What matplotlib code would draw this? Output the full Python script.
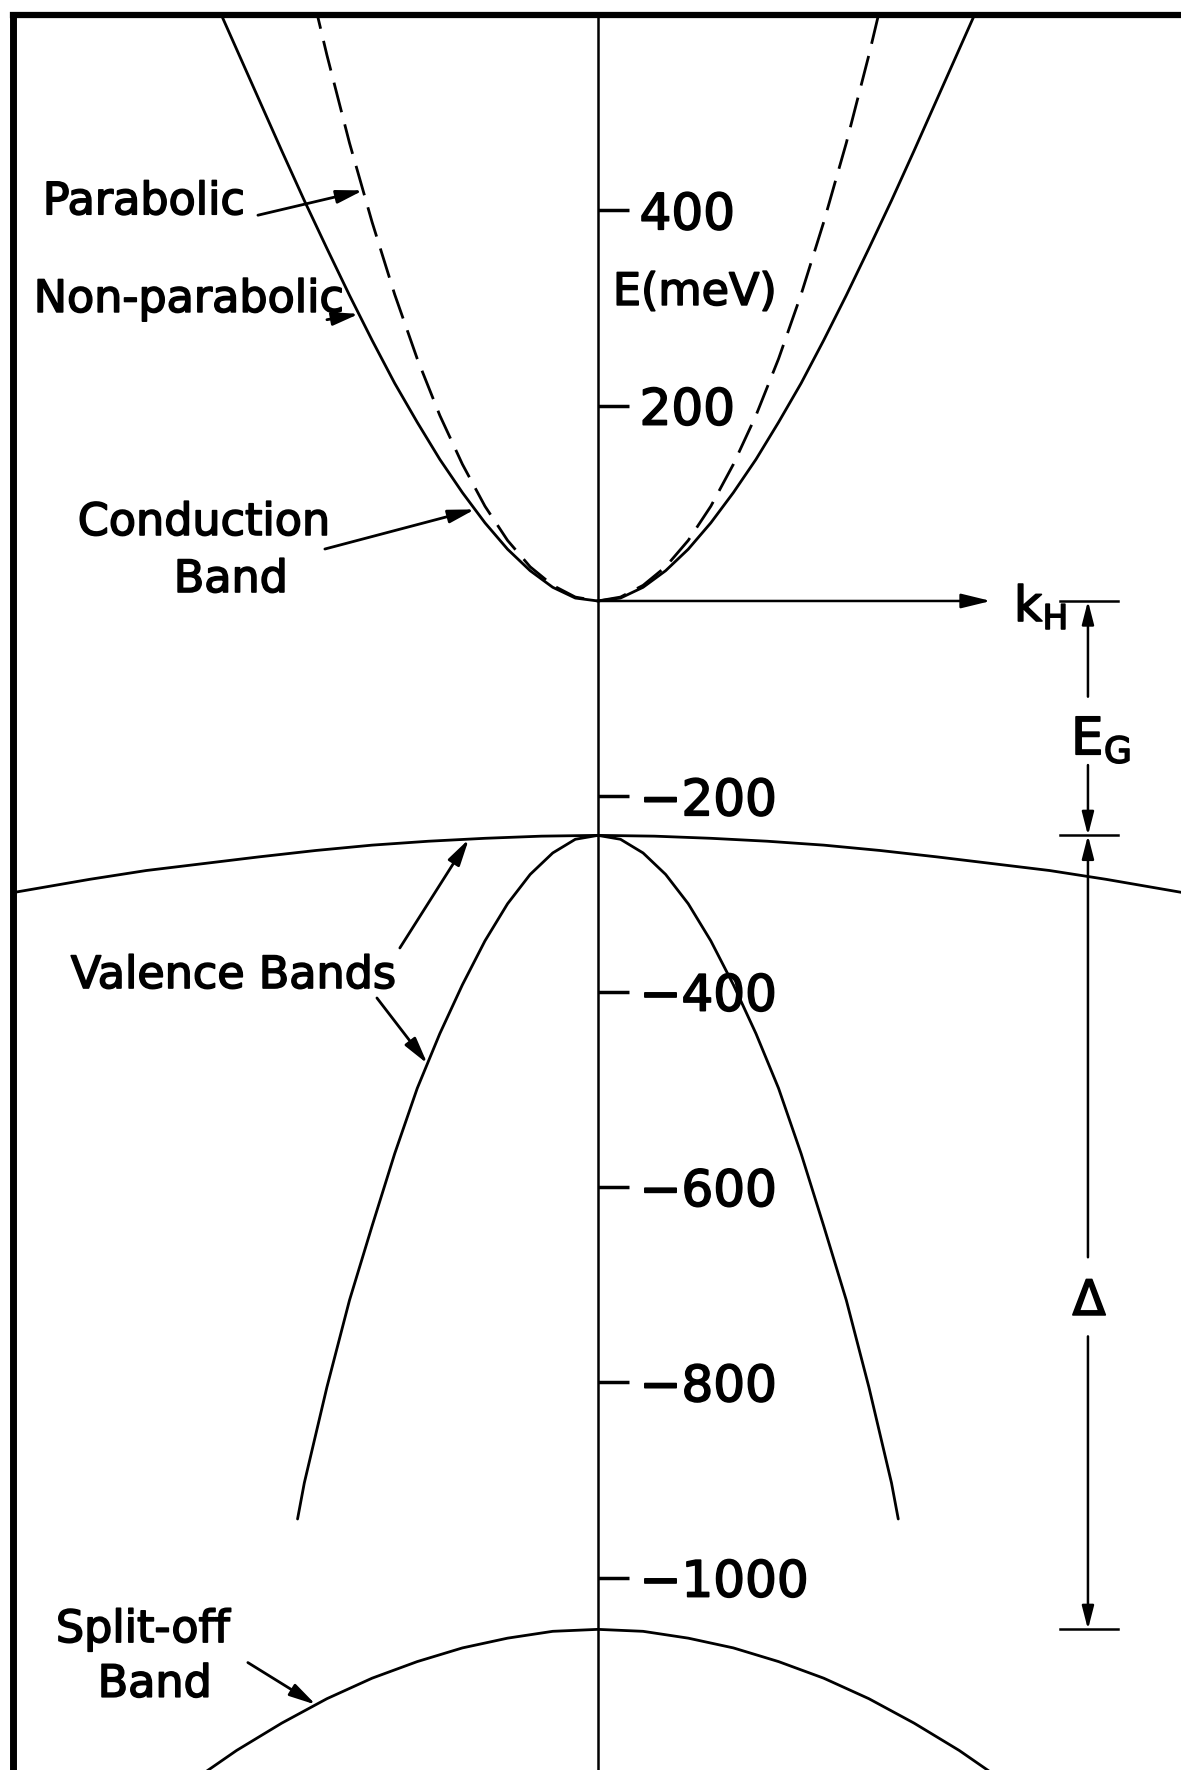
import numpy as np
import matplotlib
matplotlib.use("Agg")
import matplotlib.pyplot as plt
import matplotlib.patheffects as pe

plt.rcParams["font.family"] = ["DejaVu Sans"]
plt.rcParams["mathtext.fontset"] = "dejavusans"

# Band dispersions, one half (k >= 0); k_H in arbitrary units, energies in meV
cb_k = [0, 0.2, 0.4, 0.6, 0.8, 1.0, 1.2, 1.4, 1.6, 1.8, 2.0, 2.2, 2.4, 2.6,
        2.8, 3.0, 3.2, 3.4, 3.6]
cb_E = [0, 3, 14, 31, 53, 80, 111, 145, 183, 223, 267, 313, 361, 410,
        461, 513, 565, 617, 669]

par_k = [0, 0.2, 0.4, 0.6, 0.8, 1.0, 1.2, 1.4, 1.6, 1.8, 2.0, 2.2, 2.4, 2.6]
par_E = [0, 4, 16, 35, 62, 97, 140, 190, 248, 314, 388, 469, 559, 656]

hh_k = [0, 0.5, 1.0, 1.5, 2.0, 2.5, 3.0, 3.5, 4.0, 4.5, 5.0, 5.5]
hh_E = [-240, -240.8, -243, -246, -250, -255.5, -262, -269, -276, -285,
        -295, -305]

lh_k = [0, 0.2, 0.4, 0.6, 0.8, 1.0, 1.2, 1.4, 1.6, 1.8, 2.0, 2.2, 2.4, 2.6,
        2.66]
lh_E = [-240, -244, -258, -280, -310, -348, -393, -443, -499, -566, -640,
        -716, -805, -903, -940]

so_k = [0, 0.4, 0.8, 1.2, 1.6, 2.0, 2.4, 2.8, 3.2, 3.6, 4.0]
so_E = [-1053, -1055, -1062, -1072, -1086, -1103, -1124, -1149, -1177,
        -1209, -1245]

tick_E = [400, 200, -200, -400, -600, -800, -1000]


def both_sides(k, e):
    k = np.asarray(k, float)
    e = np.asarray(e, float)
    return np.concatenate([-k[::-1], k[1:]]), np.concatenate([e[::-1], e[1:]])


ink = [pe.withStroke(linewidth=1.2, foreground="black")]

W, H = 1181, 1770
fig = plt.figure(figsize=(W / 100, H / 100), dpi=100)
ax = fig.add_axes([13 / W, 0, 1 - 13 / W, 1 - 15 / H])
ax.set_xlim(-5.18, 5.164)
ax.set_ylim(-1197, 600)

# frame: heavy left and top border, energy axis through k = 0
ax.spines["bottom"].set_visible(False)
ax.spines["left"].set_linewidth(5)
ax.spines["top"].set_linewidth(4.5)
ax.spines["right"].set_position(("data", 0))
ax.spines["right"].set_linewidth(1.8)
ax.yaxis.tick_right()
ax.set_xticks([])
ax.set_yticks(tick_E)
ax.set_yticklabels([str(v).replace("-", "\u2212") for v in tick_E])
ax.tick_params(axis="y", direction="out", length=22, width=2.5, pad=8,
               labelsize=36)
for lbl in ax.get_yticklabels():
    lbl.set_path_effects(ink)

lw = 2.0
for k, e in [(cb_k, cb_E), (hh_k, hh_E), (lh_k, lh_E), (so_k, so_E)]:
    kk, ee = both_sides(k, e)
    ax.plot(kk, ee, color="black", lw=lw, solid_capstyle="round",
            solid_joinstyle="round")
kk, ee = both_sides(par_k, par_E)
ax.plot(kk, ee, color="black", lw=lw, ls=(0, (11, 4.5)))

# k_H axis arrow
ax.annotate("", xy=(3.48, 0), xytext=(0, 0),
            arrowprops=dict(arrowstyle="-|>,head_length=0.9,head_width=0.22",
                            lw=1.8, color="black", shrinkA=0, shrinkB=0,
                            mutation_scale=20))
ax.text(3.685, -20.5, r"$\mathrm{k}_\mathrm{H}$", fontsize=35,
        ha="left", va="baseline", path_effects=ink)

ax.text(0.133, 316, "E(meV)", fontsize=32, ha="left", va="center",
        path_effects=ink)

fs = 32
arrow_kw = dict(arrowstyle="-|>,head_length=0.8,head_width=0.2", lw=2,
                color="black", shrinkA=0, shrinkB=0, mutation_scale=20)


def pointer(k_from, e_from, k_to, band_k, band_E):
    e_to = np.interp(abs(k_to), band_k, band_E)
    ax.annotate("", xy=(k_to, e_to), xytext=(k_from, e_from),
                arrowprops=arrow_kw)


def label(k, e, s):
    ax.text(k, e, s, fontsize=fs, ha="left", va="baseline", path_effects=ink)


label(-4.916, 396, "Parabolic")
pointer(-3.011, 395, -2.08, par_k, par_E)

label(-4.996, 296, "Non-parabolic")
pointer(-2.40, 288, -2.117, cb_k, cb_E)

label(-4.606, 67.6, "Conduction")
label(-3.756, 9.2, "Band")
pointer(-2.418, 53.2, -1.089, cb_k, cb_E)

label(-4.668, -396.3, "Valence Bands")
pointer(-1.754, -355.3, -1.143, hh_k, hh_E)
pointer(-1.957, -406.5, -1.51, lh_k, lh_E)

label(-4.80, -1066, "Split-off")
label(-4.43, -1122, "Band")
pointer(-3.10, -1087, -2.498, so_k, so_E)

# energy gap and spin-orbit splitting dimension lines
e_c = cb_E[0]
e_v = hh_E[0]
e_so = so_E[0]
x_dim = 4.34
for e in (e_c, e_v, e_so):
    ax.plot([4.09, 4.606], [e, e], color="black", lw=1.8)

dim_kw = dict(arrowstyle="-|>,head_length=0.7,head_width=0.18", lw=1.8,
              color="black", shrinkA=0, shrinkB=0, mutation_scale=20)
ax.annotate("", xy=(x_dim, e_c), xytext=(x_dim, -98), arrowprops=dim_kw)
ax.annotate("", xy=(x_dim, e_v), xytext=(x_dim, -168), arrowprops=dim_kw)
ax.annotate("", xy=(x_dim, e_v), xytext=(x_dim, -672), arrowprops=dim_kw)
ax.annotate("", xy=(x_dim, e_so), xytext=(x_dim, -753), arrowprops=dim_kw)

ax.text(4.19, -157, r"$\mathrm{E}_\mathrm{G}$", fontsize=37, ha="left",
        va="baseline", path_effects=ink)
ax.text(4.35, -731, "\u0394", fontsize=35, ha="center", va="baseline",
        path_effects=ink)

fig.savefig("out.png", dpi=100)
